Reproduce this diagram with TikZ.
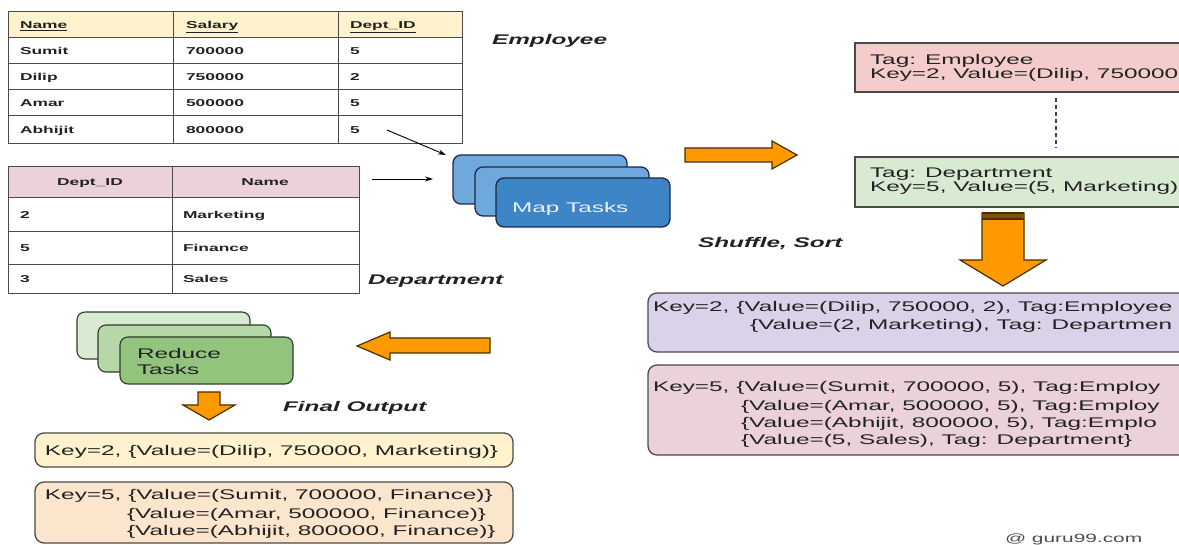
\documentclass[tikz,border=0pt]{standalone}
\usepackage{fontspec}
\setmainfont{Liberation Sans}[FakeStretch=1.74]
\usetikzlibrary{arrows.meta}
\definecolor{textc}{HTML}{222222}
\definecolor{edge}{HTML}{4A4A4A}
\definecolor{cream}{HTML}{FFF2CC}
\definecolor{peach}{HTML}{FCE5CD}
\definecolor{tagpink}{HTML}{F4CCCC}
\definecolor{tagGreen}{HTML}{D9EAD3}
\definecolor{lilac}{HTML}{D9D2E9}
\definecolor{rose}{HTML}{EAD1DC}
\definecolor{mapLight}{HTML}{6FA8DC}
\definecolor{mapDark}{HTML}{3D85C6}
\definecolor{mapEdge}{HTML}{1C2A44}
\definecolor{redA}{HTML}{D9EAD3}
\definecolor{redB}{HTML}{B6D7A8}
\definecolor{redC}{HTML}{93C47D}
\definecolor{redEdge}{HTML}{2E3B28}
\definecolor{orangeF}{HTML}{FF9900}
\definecolor{orangeE}{HTML}{4A3000}
\begin{document}
\begin{tikzpicture}[x=1pt,y=-1pt,
  txt/.style={inner sep=0pt, outer sep=0pt, anchor=base west, font=\fontsize{14}{16}\selectfont, text=textc},
  tbl/.style={inner sep=0pt, outer sep=0pt, anchor=base west, font=\fontsize{10}{12}\selectfont\bfseries, text=textc},
  tblc/.style={tbl, anchor=base},
  lbl/.style={txt, font=\fontsize{14}{16}\selectfont\bfseries\itshape},
  card/.style={draw=edge, line width=1.3pt, inner sep=0pt, outer sep=0pt, anchor=north west},
  rcard/.style={card, rounded corners=9pt},
  mapbox/.style={draw=mapEdge, line width=1.3pt, rounded corners=8pt, inner sep=0pt, outer sep=0pt, anchor=north west, minimum width=174pt, minimum height=49pt},
  redbox/.style={draw=redEdge, line width=1.1pt, rounded corners=8pt, inner sep=0pt, outer sep=0pt, anchor=north west, minimum width=173pt, minimum height=47pt},
  blockarrow/.style={draw=orangeE, fill=orangeF, line width=1.2pt, line join=miter},
  grid/.style={draw=edge, line width=1pt},
  feed/.style={draw=black, line width=0.9pt, -{Stealth[length=8pt,width=5pt]}},
]
\useasboundingbox (0,0) rectangle (1179,545);
\clip (0,0) rectangle (1179,545);

% ---------------- Employee table ----------------
\fill[cream] (8,12) rectangle (462,38);
\draw[grid] (8,12) rectangle (462,144);
\foreach \yy in {38,64,90,116} \draw[grid] (8,\yy) -- (462,\yy);
\draw[grid] (173,12) -- (173,144);
\draw[grid] (338,12) -- (338,144);
\node[tbl] (eh1) at (20,29) {\underline{Name}};
\node[tbl] (eh2) at (186,29) {\underline{Salary}};
\node[tbl] (eh3) at (350,29) {\underline{Dept\_ID}};
\node[tbl] (e11) at (20,55) {Sumit};
\node[tbl] (e12) at (186,55) {700000};
\node[tbl] (e13) at (350,55) {5};
\node[tbl] (e21) at (20,81) {Dilip};
\node[tbl] (e22) at (186,81) {750000};
\node[tbl] (e23) at (350,81) {2};
\node[tbl] (e31) at (20,107) {Amar};
\node[tbl] (e32) at (186,107) {500000};
\node[tbl] (e33) at (350,107) {5};
\node[tbl] (e41) at (20,134) {Abhijit};
\node[tbl] (e42) at (186,134) {800000};
\node[tbl] (e43) at (350,134) {5};
\node[lbl] (emplbl) at (492,45) {Employee};

% ---------------- Department table ----------------
\fill[rose] (8,167) rectangle (359,198);
\draw[grid] (8,167) rectangle (359,294);
\foreach \yy in {198,232,265} \draw[grid] (8,\yy) -- (359,\yy);
\draw[grid] (172,167) -- (172,294);
\node[tblc] (dh1) at (90,186) {Dept\_ID};
\node[tblc] (dh2) at (265,186) {Name};
\node[tbl] (d11) at (20,219) {2};
\node[tbl] (d12) at (183,219) {Marketing};
\node[tbl] (d21) at (20,252) {5};
\node[tbl] (d22) at (183,252) {Finance};
\node[tbl] (d31) at (20,283) {3};
\node[tbl] (d32) at (183,283) {Sales};
\node[lbl] (deplbl) at (368,285) {Department};

% ---------------- Map tasks ----------------
\node[mapbox, fill=mapLight] (map1) at (453,155) {};
\node[mapbox, fill=mapLight] (map2) at (475,167) {};
\node[mapbox, fill=mapDark] (map3) at (496,178) {};
\node[txt, text=white!88!mapDark] (maptxt) at (512,213) {Map Tasks};

\coordinate (empout) at (387,130);
\coordinate (mapinA) at (446,155);
\coordinate (depout) at (372,179);
\coordinate (mapinB) at (433,179);
\draw[feed] (empout) -- (mapinA);
\draw[feed] (depout) -- (mapinB);

% orange arrow right
\draw[blockarrow] (685,148) -- (772,148) -- (772,141) -- (797,155) -- (772,169) -- (772,162) -- (685,162) -- cycle;

% ---------------- Tag boxes ----------------
\node[card, fill=tagpink, minimum width=360pt, minimum height=49pt] (tagemp) at (855,43) {};
\node[txt] (te1) at (870,65) {Tag: Employee};
\node[txt] (te2) at (870,79) {Key=2, Value=(Dilip, 750000};
\node[card, fill=tagGreen, minimum width=360pt, minimum height=50pt] (tagdep) at (855,157) {};
\node[txt] (td1) at (870,178) {Tag: Department};
\node[txt] (td2) at (870,192) {Key=5, Value=(5, Marketing)};
\coordinate (dashtop) at (1056,98);
\coordinate (dashbot) at (1056,148);
\draw[black!75, line width=2.6pt, dash pattern=on 4pt off 3pt] (dashtop) -- (dashbot);

\node[lbl] (shuf) at (698,248) {Shuffle, Sort};

% orange arrow down
\draw[blockarrow] (982,213) -- (1024,213) -- (1024,260) -- (1046,260) -- (1003,286) -- (960,260) -- (982,260) -- cycle;
\fill[orangeE!70!orangeF] (982,213) rectangle (1024,219);
\draw[orangeE, line width=1.4pt] (982,213) -- (1024,213);
\draw[orangeE, line width=1.2pt] (982,219) -- (1024,219);

% ---------------- Grouped boxes ----------------
\node[rcard, fill=lilac, minimum width=570pt, minimum height=59pt] (grp2) at (648,293) {};
\node[txt] (g21) at (653,312) {Key=2, \{Value=(Dilip, 750000, 2), Tag:Employee};
\node[txt] (g22) at (750,330) {\{Value=(2, Marketing), Tag: Departmen};
\node[rcard, fill=rose, minimum width=570pt, minimum height=90pt] (grp5) at (648,365) {};
\node[txt] (g51) at (653,392) {Key=5, \{Value=(Sumit, 700000, 5), Tag:Employ};
\node[txt] (g52) at (741,410) {\{Value=(Amar, 500000, 5), Tag:Employ};
\node[txt] (g53) at (741,428) {\{Value=(Abhijit, 800000, 5), Tag:Emplo};
\node[txt] (g54) at (741,445) {\{Value=(5, Sales), Tag: Department\}};

% orange arrow left
\draw[blockarrow] (490,338) -- (390,338) -- (390,332) -- (357,346) -- (390,360) -- (390,353) -- (490,353) -- cycle;

% ---------------- Reduce tasks ----------------
\node[redbox, fill=redA] (red1) at (77,312) {};
\node[redbox, fill=redB] (red2) at (98,325) {};
\node[redbox, fill=redC] (red3) at (120,337) {};
\node[txt] (redtxt1) at (137,359) {Reduce};
\node[txt] (redtxt2) at (137,375) {Tasks};

% small orange arrow down
\draw[blockarrow] (198,392) -- (220,392) -- (220,405) -- (235,405) -- (209,420) -- (183,405) -- (198,405) -- cycle;

\node[lbl] (finlbl) at (283,412) {Final Output};

% ---------------- Final output ----------------
\node[rcard, fill=cream, minimum width=478pt, minimum height=34pt] (out2) at (35,433) {};
\node[txt] (o21) at (45,455) {Key=2, \{Value=(Dilip, 750000, Marketing)\}};
\node[rcard, fill=peach, minimum width=478pt, minimum height=61pt] (out5) at (35,482) {};
\node[txt] (o51) at (45,500) {Key=5, \{Value=(Sumit, 700000, Finance)\}};
\node[txt] (o52) at (127,518) {\{Value=(Amar, 500000, Finance)\}};
\node[txt] (o53) at (127,535) {\{Value=(Abhijit, 800000, Finance)\}};

\node[txt, font=\fontsize{12}{14}\selectfont, text=black!70] (mark) at (1005,542) {@ guru99.com};
\end{tikzpicture}
\end{document}
